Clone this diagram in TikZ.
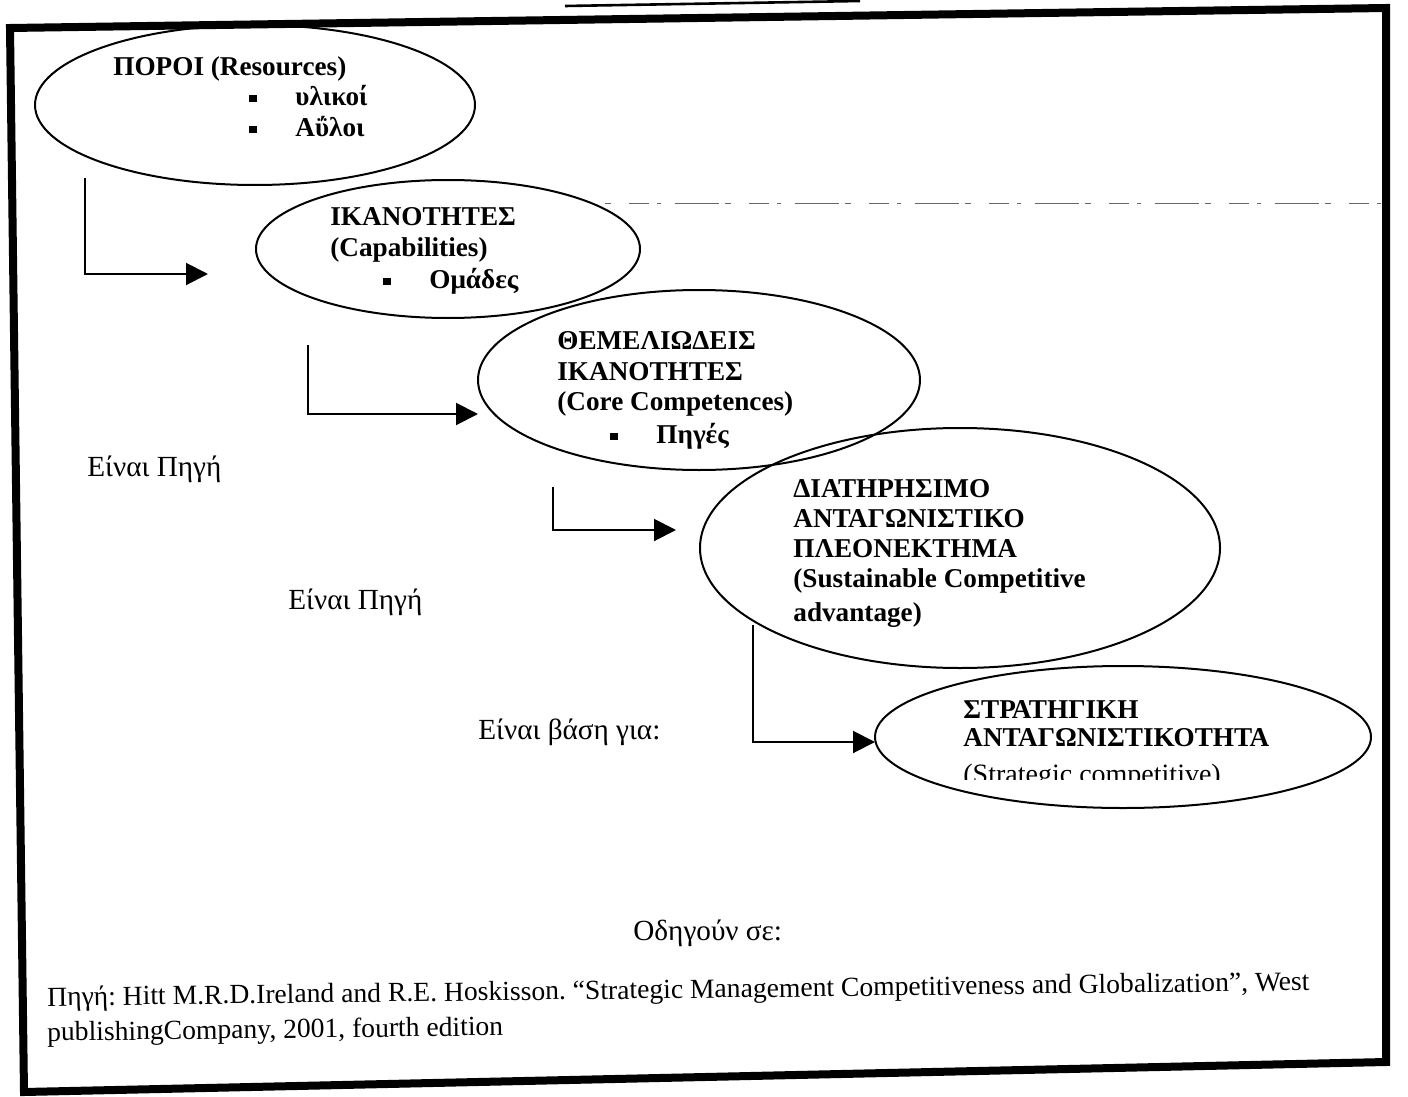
\documentclass[tikz,border=0pt]{standalone}
\usepackage{fontspec}
\setmainfont{Liberation Serif}
\usetikzlibrary{shapes.geometric,arrows.meta}
\newcommand\sqbullet{\makebox[23pt][l]{\rule[0.25ex]{3.6pt}{3.6pt}}}
\frenchspacing
\begin{document}
\begin{tikzpicture}[x=0.5pt,y=-0.5pt,
  ell/.style={draw, ellipse, line width=1pt, inner sep=0pt},
  bt/.style={anchor=base west, inner sep=0pt, font=\bfseries\fontsize{13.6}{16}\selectfont},
  lbl/.style={anchor=base west, inner sep=0pt, font=\fontsize{14.6}{17}\selectfont},
  src/.style={anchor=base west, inner sep=0pt, font=\fontsize{13.8}{16}\selectfont, rotate=0.7},
  arr/.style={line width=1pt, -{Triangle[length=11pt,width=11pt]}},
]
\useasboundingbox (0,0) rectangle (1408,1097);

% outer frame and the cut-off title underline
\draw[line width=4pt, line join=miter] (10,28) -- (1386,8) -- (1386,1062) -- (24,1092) -- cycle;
\draw[line width=1.3pt] (565,6) -- (860,1);
% faint fold line
\draw[line width=0.4pt, black!60, dash pattern=on 3pt off 9pt on 10pt off 4pt on 2pt off 7pt on 22pt off 3pt]
  (605,203) -- (1382,203);

% ellipses
\node[ell, minimum width=220pt, minimum height=80pt]  (e1) at (255,105) {};
\node[ell, minimum width=192pt, minimum height=69pt]  (e2) at (448,249) {};
\node[ell, minimum width=221pt, minimum height=90pt]  (e3) at (699,380) {};
\node[ell, minimum width=260pt, minimum height=120pt] (e4) at (960,548) {};
\node[ell, minimum width=248pt, minimum height=71pt]  (e5) at (1123,737) {};

% texts of the ellipses
\node[bt] (r1) at (113,76) {ΠΟΡΟΙ (Resources)};
\node[bt] (r2) at (249,105) {\sqbullet υλικοί};
\node[bt] (r3) at (249,136) {\sqbullet Αΰλοι};

\node[bt] (c1) at (330,225) {ΙΚΑΝΟΤΗΤΕΣ};
\node[bt] (c2) at (330,256) {(Capabilities)};
\node[bt] (c3) at (383,288) {\sqbullet Ομάδες};

\node[bt] (k1) at (557,349) {ΘΕΜΕΛΙΩΔΕΙΣ};
\node[bt] (k2) at (557,380) {ΙΚΑΝΟΤΗΤΕΣ};
\node[bt] (k3) at (557,410) {(Core Competences)};
\node[bt] (k4) at (610,443) {\sqbullet Πηγές};

\node[bt] (d1) at (793,497) {ΔΙΑΤΗΡΗΣΙΜΟ};
\node[bt] (d2) at (793,527) {ΑΝΤΑΓΩΝΙΣΤΙΚΟ};
\node[bt] (d3) at (793,557) {ΠΛΕΟΝΕΚΤΗΜΑ};
\node[bt] (d4) at (793,587) {(Sustainable Competitive};
\node[bt] (d5) at (793,621) {advantage)};

\node[bt] (s1) at (963,718) {ΣΤΡΑΤΗΓΙΚΗ};
\node[bt] (s2) at (963,746) {ΑΝΤΑΓΩΝΙΣΤΙΚΟΤΗΤΑ};
\begin{scope}
  \clip (940,700) rectangle (1340,779);
  \node[anchor=base west, inner sep=0pt, font=\fontsize{14}{16}\selectfont] (s3) at (963,783) {(Strategic competitive)};
\end{scope}

% connectors
\coordinate (a1s) at (85,178);  \coordinate (a1e) at (208,274);
\coordinate (a2s) at (308,345); \coordinate (a2e) at (478,414);
\coordinate (a3s) at (553,487); \coordinate (a3e) at (676,530);
\coordinate (a4s) at (753,625); \coordinate (a4e) at (875,742);
\draw[arr] (a1s) |- (a1e);
\draw[arr] (a2s) |- (a2e);
\draw[arr] (a3s) |- (a3e);
\draw[arr] (a4s) |- (a4e);

% labels
\node[lbl] (l1) at (87,476)  {Είναι Πηγή};
\node[lbl] (l2) at (288,609) {Είναι Πηγή};
\node[lbl] (l3) at (478,739) {Είναι βάση για:};
\node[lbl] (l4) at (633,940) {Οδηγούν σε:};

% source
\node[src] (p1) at (47,1006) {Πηγή: Hitt M.R.D.Ireland and R.E. Hoskisson. “Strategic Management Competitiveness and Globalization”, West};
\node[src] (p2) at (47,1041) {publishingCompany, 2001, fourth edition};
\end{tikzpicture}
\end{document}
